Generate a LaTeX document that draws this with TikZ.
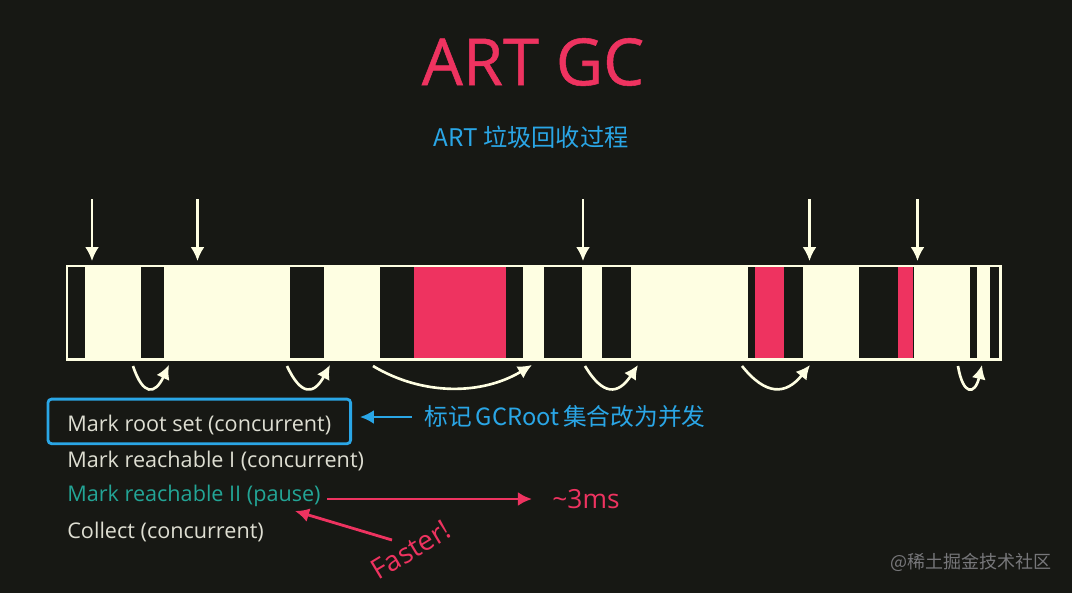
\documentclass[tikz,border=0pt]{standalone}
\usepackage{fontspec}
\setmainfont{Open Sans}
\newfontfamily\cjk{Noto Sans CJK SC}
\newfontfamily\titlefont[FakeBold=0.8]{Open Sans}
\usetikzlibrary{arrows.meta,fit,positioning}

\definecolor{slide}{HTML}{171814}
\definecolor{cream}{HTML}{FEFEE2}
\definecolor{hot}{HTML}{EE3360}
\definecolor{sky}{HTML}{2AA6E6}
\definecolor{teal}{HTML}{23A596}
\definecolor{ash}{HTML}{DEDED2}
\definecolor{wmark}{HTML}{77777A}

\begin{document}
\begin{tikzpicture}[x=0.02cm, y=-0.02cm, >={Latex[length=8pt,width=8pt]}]

% list entry style
\tikzstyle{step text} = [
    anchor=west,
    inner sep=0pt,
    text=ash,
    font=\fontsize{12.3}{14}\selectfont
]

% pointer from above the bar
\tikzstyle{gc arrow} = [
    ->,
    draw=cream,
    line width=1.5pt
]

% red annotation style
\tikzstyle{note arrow} = [
    ->,
    draw=hot,
    line width=1.6pt
]

% Background.
\fill [slide] (0,0) rectangle (1072,593);
\useasboundingbox (0,0) rectangle (1072,593);

% Place the heading.
\node [text=hot, font=\fontsize{37}{42}\titlefont] (title) at (533,62) {ART GC};
\node [text=sky, font=\fontsize{13.8}{16}\cjk] (subtitle) at (531,137) {ART 垃圾回收过程};

% Place the bar.
\node [draw=cream, fill=cream, line width=0.5pt, minimum width=18.7cm, minimum height=1.9cm,
    inner sep=0pt] (bar) at (534,312.5) {};

\foreach \from/\to in {68/85, 141/164, 290/324, 380/414, 506/523, 544/582, 602/631,
    748/755, 784/803, 859/898, 913/914, 970/977, 990/999}
    \fill [slide] (\from,267) rectangle (\to,358);

\foreach \from/\to in {414/506, 755/784, 898/913}
    \fill [hot] (\from,267) rectangle (\to,358);

% Pointers to the bar.
\foreach \x/\name in {92/a, 197.5/b, 583/c, 809.5/d, 917.5/e} {
    \coordinate (top-\name) at (\x,199);
    \draw [gc arrow, shorten >=2pt] (top-\name) -- (top-\name |- bar.north);
}

% Curved hops below the bar.
\foreach \name/\xa/\xb/\ca/\cb in {a/133/169/10/-14, b/287/330/14/-16, c/373/532/50/-50,
    d/585/638/18/-20, e/742/810/24/-24, f/958/982/5/-7} {
    \coordinate (hop-\name-s) at (\xa,366);
    \coordinate (hop-\name-e) at (\xb,365);
    \draw [gc arrow] (hop-\name-s) .. controls +(\ca,30) and +(\cb,30) .. (hop-\name-e);
}

% Place the list.
\matrix [anchor=west, inner sep=0pt, row sep={0.71cm,between origins}] (steps) at (67,478.5)
{
    \node [step text] (root) {Mark root set (concurrent)}; \\
    \node [step text] (reach-one) {Mark reachable I (concurrent)}; \\
    \node [step text, text=teal] (reach-two) {Mark reachable II (pause)}; \\
    \node [step text] (collect) {Collect (concurrent)}; \\
};

% Draw the fitting box.
\node [draw=sky, line width=1.6pt, rounded corners=2pt, inner xsep=0.38cm, inner ysep=0.24cm,
    yshift=2.2pt, fit=(root)] (root-box) {};

% Place the notes.
\node [text=sky, font=\fontsize{13.5}{16}\cjk, anchor=west, inner sep=0pt] (root-note) at (424,417)
    {标记\,GCRoot\,集合改为并发};
\node [text=hot, font=\fontsize{15}{18}\selectfont, anchor=west, inner sep=0pt] (ms) at (552,499) {\textasciitilde3ms};
\node [text=hot, font=\fontsize{15.8}{18}\selectfont, rotate=31] (faster) at (411,550) {Faster!};
\coordinate (faster-tip) at (295,511);
\node [text=wmark, font=\fontsize{10.25}{12}\cjk, anchor=east, inner sep=0pt] (wm) at (1052,562) {@稀土掘金技术社区};

% Connect the nodes.
\draw [->, draw=sky, line width=1.6pt, shorten <=7pt, shorten >=4.5pt] (root-note.west) -- (root-note.west -| root-box.east);
\draw [note arrow, shorten <=3.5pt, shorten >=11.4pt] (ms.west -| reach-two.east) -- (ms.west);
\draw [note arrow] (faster) ++(-19,-10) coordinate (faster-tail) -- (faster-tip);

\end{tikzpicture}
\end{document}
